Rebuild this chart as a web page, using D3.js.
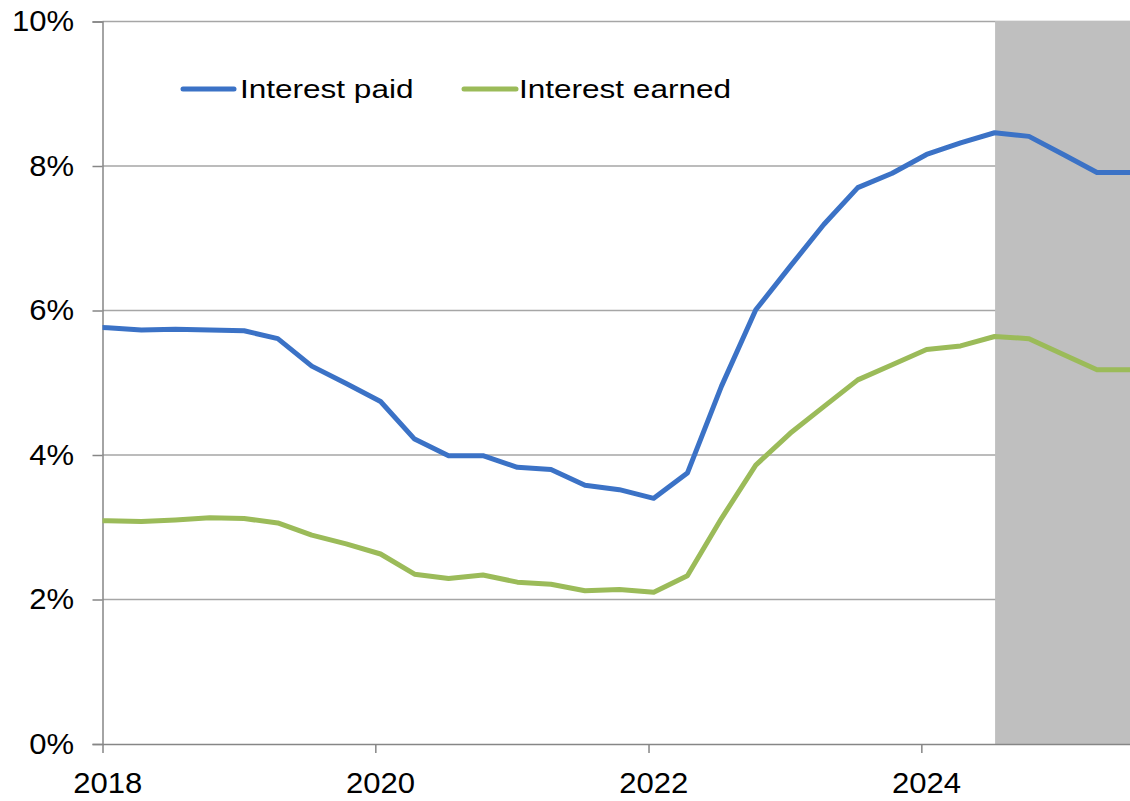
<!DOCTYPE html>
<html>
<head>
<meta charset="utf-8">
<script src="https://cdn.jsdelivr.net/npm/d3@7"></script>
<style>
  html, body { margin: 0; padding: 0; background: #fff; }
  svg { display: block; }
  text { font-family: "Liberation Sans", Arial, sans-serif; fill: #000; }
</style>
</head>
<body>
<svg id="chart" width="1130" height="801"></svg>
<script>
// Quarterly observation dates (mid-month of each quarter's first month)
const quarters = [
  "2017-10-15","2018-01-15","2018-04-15","2018-07-15","2018-10-15",
  "2019-01-15","2019-04-15","2019-07-15","2019-10-15",
  "2020-01-15","2020-04-15","2020-07-15","2020-10-15",
  "2021-01-15","2021-04-15","2021-07-15","2021-10-15",
  "2022-01-15","2022-04-15","2022-07-15","2022-10-15",
  "2023-01-15","2023-04-15","2023-07-15","2023-10-15",
  "2024-01-15","2024-04-15","2024-07-15","2024-10-15",
  "2025-01-15","2025-04-15","2025-07-15"
];

// Average rate, percent
const interestPaid = [
  5.78, 5.76, 5.73, 5.74, 5.73,
  5.72, 5.61, 5.23, 4.99,
  4.74, 4.22, 3.99, 3.99,
  3.83, 3.80, 3.58, 3.52,
  3.40, 3.75, 4.95, 6.01,
  6.61, 7.19, 7.70, 7.90,
  8.16, 8.32, 8.46, 8.41,
  8.16, 7.91, 7.91
];

const interestEarned = [
  3.10, 3.09, 3.08, 3.10, 3.13,
  3.12, 3.06, 2.89, 2.77,
  2.63, 2.35, 2.29, 2.34,
  2.24, 2.21, 2.12, 2.14,
  2.10, 2.33, 3.12, 3.86,
  4.30, 4.67, 5.04, 5.25,
  5.46, 5.51, 5.64, 5.61,
  5.39, 5.18, 5.18
];

const seriesNames = ["Interest paid", "Interest earned"];
const seriesColors = ["#3b72c6", "#9bbb59"];

const yTicks = [0, 2, 4, 6, 8, 10];
const xTickYears = [2018, 2020, 2022, 2024];
const xDomain = ["2018-01-01", "2025-07-15"];
const forecastStart = "2024-07-15";

const parse = d3.timeParse("%Y-%m-%d");
const svg = d3.select("#chart");

const plotLeft = 102.5, plotRight = 1131, plotTop = 21.5, plotBottom = 744;
const axisFont = 29, axisStretch = 1.07;
const legendFont = 26.5, legendStretch = 1.19;

const x = d3.scaleTime().domain(xDomain.map(parse)).range([plotLeft, plotRight]);
const y = d3.scaleLinear().domain([0, 10]).range([plotBottom, plotTop]);

svg.append("defs").append("clipPath").attr("id", "plot")
  .append("rect").attr("x", plotLeft).attr("y", plotTop - 5)
  .attr("width", plotRight - plotLeft).attr("height", plotBottom - plotTop + 10);

// horizontal gridlines
svg.append("g").selectAll("line").data(yTicks.filter(d => d > 0)).join("line")
  .attr("x1", plotLeft).attr("x2", plotRight)
  .attr("y1", d => y(d)).attr("y2", d => y(d))
  .attr("stroke", "#a6a6a6").attr("stroke-width", 1.5);

// shaded projection period
svg.append("rect")
  .attr("x", x(parse(forecastStart)) + 0.5)
  .attr("y", y(10) - 0.5)
  .attr("width", plotRight - x(parse(forecastStart)))
  .attr("height", y(0) - y(10) + 0.5)
  .attr("fill", "#bfbfbf");

// y axis
const yAxis = svg.append("g").attr("transform", `translate(${plotLeft},0)`)
  .call(d3.axisLeft(y).tickValues(yTicks).tickSize(10).tickFormat(""));
yAxis.select(".domain").attr("stroke", "#868686").attr("stroke-width", 1.5);
yAxis.selectAll(".tick line").attr("stroke", "#868686").attr("stroke-width", 1.5);

svg.append("g").selectAll("text").data(yTicks).join("text")
  .attr("transform", d => `translate(74,${y(d) + 9.5}) scale(${axisStretch},1)`)
  .attr("text-anchor", "end")
  .attr("font-size", axisFont)
  .text(d => d + "%");

// x axis: ticks at the start of each year, labels under the mid-January point
const xTickDates = xTickYears.map(v => new Date(v, 0, 1));
const xAxis = svg.append("g").attr("transform", `translate(0,${plotBottom})`)
  .call(d3.axisBottom(x).tickValues(xTickDates).tickSizeInner(9).tickSizeOuter(0).tickFormat(""));
xAxis.select(".domain").attr("stroke", "#868686").attr("stroke-width", 1.5);
xAxis.selectAll(".tick line").attr("stroke", "#868686").attr("stroke-width", 1.5);

svg.append("g").selectAll("text").data(xTickYears).join("text")
  .attr("transform", d => `translate(${x(new Date(d, 0, 15))},792.5) scale(${axisStretch},1)`)
  .attr("text-anchor", "middle")
  .attr("font-size", axisFont)
  .text(d => d);

// series lines
const line = d3.line()
  .x((d, i) => x(parse(quarters[i])))
  .y(d => y(d));

const lineLayer = svg.append("g").attr("clip-path", "url(#plot)");
[interestPaid, interestEarned].forEach((vals, k) => {
  lineLayer.append("path")
    .attr("d", line(vals))
    .attr("fill", "none")
    .attr("stroke", seriesColors[k])
    .attr("stroke-width", 5)
    .attr("stroke-linejoin", "round");
});

// legend
const legendItems = [
  { x1: 183, x2: 234, tx: 240 },
  { x1: 464, x2: 516, tx: 519 }
];
const legend = svg.append("g");
legendItems.forEach((it, k) => {
  legend.append("line")
    .attr("x1", it.x1).attr("x2", it.x2).attr("y1", 89).attr("y2", 89)
    .attr("stroke", seriesColors[k]).attr("stroke-width", 5)
    .attr("stroke-linecap", "round");
  legend.append("text")
    .attr("transform", `translate(${it.tx},97.5) scale(${legendStretch},1)`)
    .attr("font-size", legendFont)
    .text(seriesNames[k]);
});
</script>
</body>
</html>
